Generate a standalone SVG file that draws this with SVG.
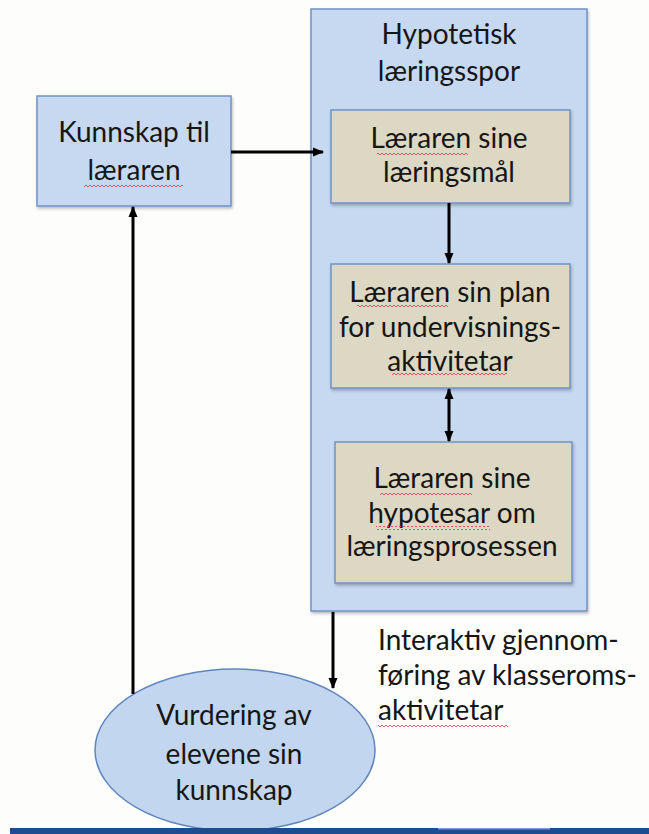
<svg xmlns="http://www.w3.org/2000/svg" width="649" height="834" viewBox="0 0 649 834">
<style>
  .t { font-family: Lato, "Liberation Sans", sans-serif; font-size: 28px; fill: #161616; text-anchor: middle; }
  .tl { font-family: Lato, "Liberation Sans", sans-serif; font-size: 28px; fill: #161616; }
  .blue { fill: #c6d9f1; stroke: #6f93c6; stroke-width: 1.5; }
  .tan { fill: #ddd8c3; stroke: #6f93c6; stroke-width: 1.5; }
  .conn { stroke: #000; stroke-width: 3; fill: none; }
  .wave { fill: url(#squiggle); }
</style>
<defs>
  <marker id="ah" markerUnits="userSpaceOnUse" markerWidth="12" markerHeight="12" refX="10" refY="6" orient="auto-start-reverse">
    <path d="M0,1.5 L11,6 L0,10.5 Z" fill="#000"/>
  </marker>
  <pattern id="squiggle" patternUnits="userSpaceOnUse" width="4" height="4">
    <path d="M0,3 L2,1 L4,3" fill="none" stroke="#d8475c" stroke-width="0.9"/>
  </pattern>
  <filter id="sh" x="-10%" y="-10%" width="120%" height="120%">
    <feDropShadow dx="1" dy="2" stdDeviation="1.5" flood-color="#000" flood-opacity="0.25"/>
  </filter>
</defs>
<rect width="649" height="834" fill="#fdfdfc"/>

<g id="hypotetisk-laeringsspor">
  <rect class="blue" x="311" y="9" width="276" height="602" filter="url(#sh)"/>
  <text class="t" x="449" y="44">Hypotetisk</text>
  <text class="t" x="449" y="81">læringsspor</text>
</g>

<g id="kunnskap">
  <rect class="blue" x="37" y="96" width="194" height="110" filter="url(#sh)"/>
  <text class="t" x="134" y="142">Kunnskap til</text>
  <text class="t" x="134" y="180">læraren</text>
  <rect class="wave" x="84" y="183" width="99" height="4"/>
</g>

<g id="laeringsmaal">
  <rect class="tan" x="331" y="110" width="239" height="93" filter="url(#sh)"/>
  <text class="t" x="449" y="148">Læraren sine</text>
  <text class="t" x="449" y="182">læringsmål</text>
  <rect class="wave" x="377" y="151" width="91" height="4"/>
</g>

<g id="plan">
  <rect class="tan" x="331" y="264" width="239" height="124" filter="url(#sh)"/>
  <text class="t" x="450" y="302">Læraren sin plan</text>
  <text class="t" x="450" y="337">for undervisnings-</text>
  <text class="t" x="450" y="371">aktivitetar</text>
  <rect class="wave" x="357" y="305" width="91" height="4"/>
  <rect class="wave" x="392" y="372" width="115" height="4"/>
</g>

<g id="hypotesar">
  <rect class="tan" x="335" y="442" width="237" height="141" filter="url(#sh)"/>
  <text class="t" x="452" y="488">Læraren sine</text>
  <text class="t" x="452" y="523">hypotesar om</text>
  <text class="t" x="452" y="556">læringsprosessen</text>
  <rect class="wave" x="380" y="491" width="92" height="4"/>
  <rect class="wave" x="376" y="526" width="114" height="4"/>
</g>

<g id="vurdering">
  <ellipse cx="235" cy="750" rx="140" ry="81" fill="#c3d6ef" stroke="#5f86bd" stroke-width="1.5"/>
  <text class="t" x="234" y="725">Vurdering av</text>
  <text class="t" x="234" y="764">elevene sin</text>
  <text class="t" x="234" y="800">kunnskap</text>
</g>

<g id="interaktiv-label">
  <text class="tl" x="378" y="650">Interaktiv gjennom-</text>
  <text class="tl" x="378" y="685">føring av klasseroms-</text>
  <text class="tl" x="378" y="720">aktivitetar</text>
  <rect class="wave" x="378" y="725" width="130" height="4"/>
</g>

<g id="connectors">
  <line class="conn" x1="231" y1="152" x2="323" y2="152" marker-end="url(#ah)"/>
  <line class="conn" x1="449" y1="203" x2="449" y2="263" marker-end="url(#ah)"/>
  <line class="conn" x1="449" y1="389" x2="449" y2="441" marker-start="url(#ah)" marker-end="url(#ah)"/>
  <line class="conn" x1="333" y1="612" x2="333" y2="688" marker-end="url(#ah)"/>
  <line class="conn" x1="133" y1="694" x2="133" y2="207" marker-end="url(#ah)"/>
</g>

<rect x="10" y="828" width="639" height="6" fill="#1d4c91"/>
<rect x="438" y="828" width="112" height="1.5" fill="#7b9cd0"/>
</svg>
